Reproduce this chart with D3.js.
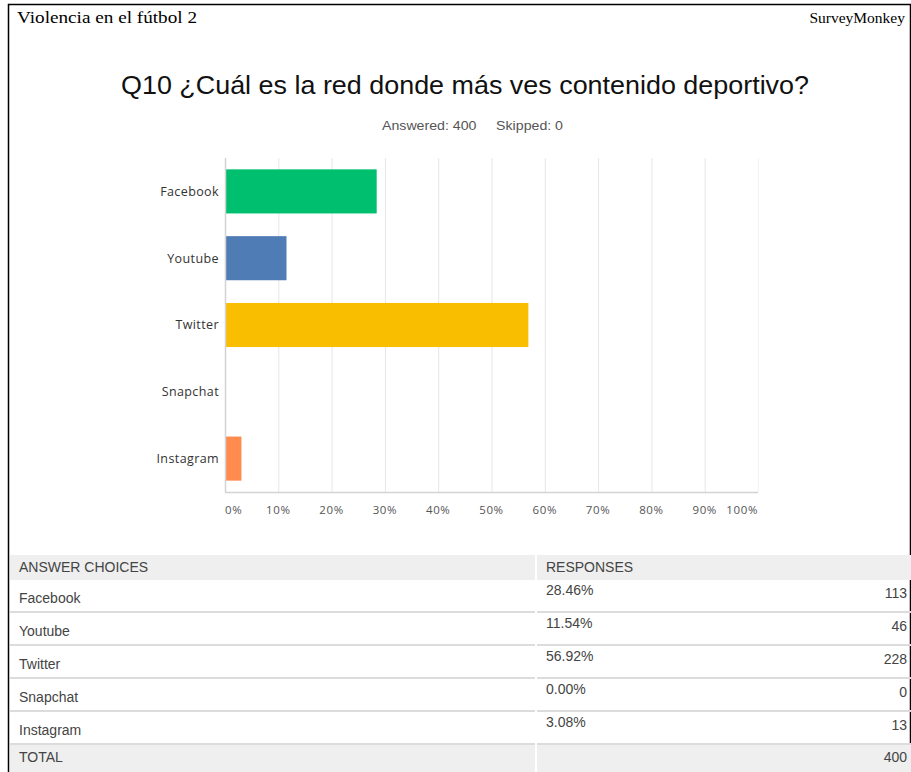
<!DOCTYPE html>
<html lang="es">
<head>
<meta charset="UTF-8">
<title>Q10 ¿Cuál es la red donde más ves contenido deportivo?</title>
<script src="https://d3js.org/d3.v7.min.js"></script>
<style>
  body { margin: 0; background: #fff; }
  svg { display: block; }
</style>
</head>
<body>
<div id="chart"></div>

<script>
// Data
const categories = ["Facebook", "Youtube", "Twitter", "Snapchat", "Instagram"];
const percents = [28.46, 11.54, 56.92, 0.00, 3.08];
const counts = [113, 46, 228, 0, 13];
const barColors = ["#00bf6f", "#507cb6", "#f9be00", "#6bc8cd", "#ff8b4f"];
const xTicks = [0, 10, 20, 30, 40, 50, 60, 70, 80, 90, 100];
const totalAnswered = 400;
const totalSkipped = 0;

const W = 911, H = 772;

const svg = d3.select("#chart").append("svg")
  .attr("width", W)
  .attr("height", H);

// page frame
svg.append("path")
  .attr("d", `M8.5,${H} V4.5 H910.5 V${H}`)
  .attr("fill", "none")
  .attr("stroke", "#000")
  .attr("stroke-width", 1.5);

// page header (printed page look, serif)
svg.append("text")
  .attr("x", 17).attr("y", 23)
  .attr("textLength", 180)
  .attr("lengthAdjust", "spacingAndGlyphs")
  .style("font-family", "'Liberation Serif', 'Times New Roman', serif")
  .style("font-size", "17px")
  .text("Violencia en el fútbol 2");

svg.append("text")
  .attr("x", 905).attr("y", 23)
  .attr("text-anchor", "end")
  .style("font-family", "'Liberation Serif', 'Times New Roman', serif")
  .style("font-size", "15.5px")
  .text("SurveyMonkey");

// question title
svg.append("text")
  .attr("x", 121).attr("y", 94)
  .attr("textLength", 688)
  .attr("lengthAdjust", "spacingAndGlyphs")
  .style("font-family", "'Liberation Sans', Arial, sans-serif")
  .style("font-size", "25px")
  .attr("fill", "#111")
  .text("Q10 ¿Cuál es la red donde más ves contenido deportivo?");

svg.append("text")
  .attr("x", 382).attr("y", 130)
  .attr("textLength", 181)
  .attr("lengthAdjust", "spacingAndGlyphs")
  .style("font-family", "'Liberation Sans', Arial, sans-serif")
  .style("font-size", "13.5px")
  .attr("fill", "#555")
  .attr("xml:space", "preserve")
  .text(`Answered: ${totalAnswered}     Skipped: ${totalSkipped}`);

// ---- bar chart ----
const plot = { left: 225, right: 758, top: 158, bottom: 492 };

const x = d3.scaleLinear()
  .domain([0, 100])
  .range([plot.left, plot.right]);

const y = d3.scaleBand()
  .domain(categories)
  .range([plot.top, plot.bottom])
  .paddingInner(0.34)
  .paddingOuter(0.17);

// gridlines
svg.append("g")
  .selectAll("line")
  .data(xTicks.slice(1))
  .join("line")
  .attr("x1", d => x(d) + 0.5)
  .attr("x2", d => x(d) + 0.5)
  .attr("y1", plot.top)
  .attr("y2", plot.bottom)
  .attr("stroke", d => d === 100 ? "#f2f2f2" : "#e6e6e6")
  .attr("stroke-width", 1);

// bars
svg.append("g")
  .selectAll("rect")
  .data(categories)
  .join("rect")
  .attr("x", x(0))
  .attr("y", d => y(d))
  .attr("width", (d, i) => x(percents[i]) - x(0))
  .attr("height", y.bandwidth())
  .attr("fill", (d, i) => barColors[i]);

// axis lines
svg.append("line")
  .attr("x1", plot.left + 0.5).attr("x2", plot.left + 0.5)
  .attr("y1", plot.top).attr("y2", plot.bottom)
  .attr("stroke", "#d3d3d3").attr("stroke-width", 1.5);

svg.append("line")
  .attr("x1", plot.left).attr("x2", plot.right)
  .attr("y1", plot.bottom + 0.5).attr("y2", plot.bottom + 0.5)
  .attr("stroke", "#d3d3d3").attr("stroke-width", 1.5);

// category labels
svg.append("g")
  .selectAll("text")
  .data(categories)
  .join("text")
  .attr("x", plot.left - 6)
  .attr("y", d => y(d) + y.bandwidth() / 2)
  .attr("dy", "0.35em")
  .attr("text-anchor", "end")
  .style("font-family", "'Open Sans', sans-serif")
  .style("font-size", "12.5px")
  .style("letter-spacing", "0.4px")
  .attr("fill", "#333")
  .text(d => d);

// tick labels
svg.append("g")
  .selectAll("text")
  .data(xTicks)
  .join("text")
  .attr("x", d => x(d))
  .attr("y", plot.bottom + 18)
  .attr("dy", "0.35em")
  .attr("text-anchor", (d, i) => i === 0 ? "start" : i === xTicks.length - 1 ? "end" : "middle")
  .style("font-family", "'Open Sans', sans-serif")
  .style("font-size", "11.5px")
  .style("letter-spacing", "0.6px")
  .attr("fill", "#555")
  .text(d => d + "%");

// ---- response table ----
const table = { left: 10, split: 535, right: 911, headTop: 555, headH: 25, rowH: 33 };
const colGap = 2;
const rowTop = i => table.headTop + table.headH + i * table.rowH;
const tableFont = "'Liberation Sans', Arial, sans-serif";

// header background
svg.append("rect")
  .attr("x", table.left).attr("y", table.headTop)
  .attr("width", table.split - table.left).attr("height", table.headH)
  .attr("fill", "#efefef");
svg.append("rect")
  .attr("x", table.split + colGap).attr("y", table.headTop)
  .attr("width", table.right - table.split - colGap).attr("height", table.headH)
  .attr("fill", "#efefef");

svg.append("text")
  .attr("x", 19).attr("y", table.headTop + table.headH / 2)
  .attr("dy", "0.35em")
  .style("font-family", tableFont).style("font-size", "14px")
  .attr("fill", "#444")
  .text("ANSWER CHOICES");

svg.append("text")
  .attr("x", 546).attr("y", table.headTop + table.headH / 2)
  .attr("dy", "0.35em")
  .style("font-family", tableFont).style("font-size", "14px")
  .attr("fill", "#444")
  .text("RESPONSES");

// rows
const rows = svg.append("g")
  .selectAll("g")
  .data(categories)
  .join("g");

rows.append("text")
  .attr("x", 19)
  .attr("y", (d, i) => rowTop(i) + 18)
  .attr("dy", "0.35em")
  .style("font-family", tableFont).style("font-size", "14px")
  .attr("fill", "#444")
  .text(d => d);

rows.append("text")
  .attr("x", 546)
  .attr("y", (d, i) => rowTop(i) + 10)
  .attr("dy", "0.35em")
  .style("font-family", tableFont).style("font-size", "14px")
  .attr("fill", "#444")
  .text((d, i) => percents[i].toFixed(2) + "%");

rows.append("text")
  .attr("x", 907)
  .attr("y", (d, i) => rowTop(i) + 13)
  .attr("dy", "0.35em")
  .attr("text-anchor", "end")
  .style("font-family", tableFont).style("font-size", "14px")
  .attr("fill", "#444")
  .text((d, i) => counts[i]);

// row separators
rows.each(function(d, i) {
  const yy = rowTop(i + 1) - 1;
  d3.select(this).append("line")
    .attr("x1", table.left).attr("x2", table.split)
    .attr("y1", yy).attr("y2", yy)
    .attr("stroke", "#dcdcdc").attr("stroke-width", 2);
  d3.select(this).append("line")
    .attr("x1", table.split + colGap).attr("x2", table.right)
    .attr("y1", yy).attr("y2", yy)
    .attr("stroke", "#dcdcdc").attr("stroke-width", 2);
});

// total row
const totalTop = rowTop(categories.length);
svg.append("rect")
  .attr("x", table.left).attr("y", totalTop)
  .attr("width", table.split - table.left).attr("height", H - totalTop)
  .attr("fill", "#efefef");
svg.append("rect")
  .attr("x", table.split + colGap).attr("y", totalTop)
  .attr("width", table.right - table.split - colGap).attr("height", H - totalTop)
  .attr("fill", "#efefef");

svg.append("text")
  .attr("x", 19).attr("y", totalTop + 12)
  .attr("dy", "0.35em")
  .style("font-family", tableFont).style("font-size", "14px")
  .attr("fill", "#444")
  .text("TOTAL");

svg.append("text")
  .attr("x", 907).attr("y", totalTop + 12)
  .attr("dy", "0.35em")
  .attr("text-anchor", "end")
  .style("font-family", tableFont).style("font-size", "14px")
  .attr("fill", "#444")
  .text(d3.sum(counts));
</script>
</body>
</html>
